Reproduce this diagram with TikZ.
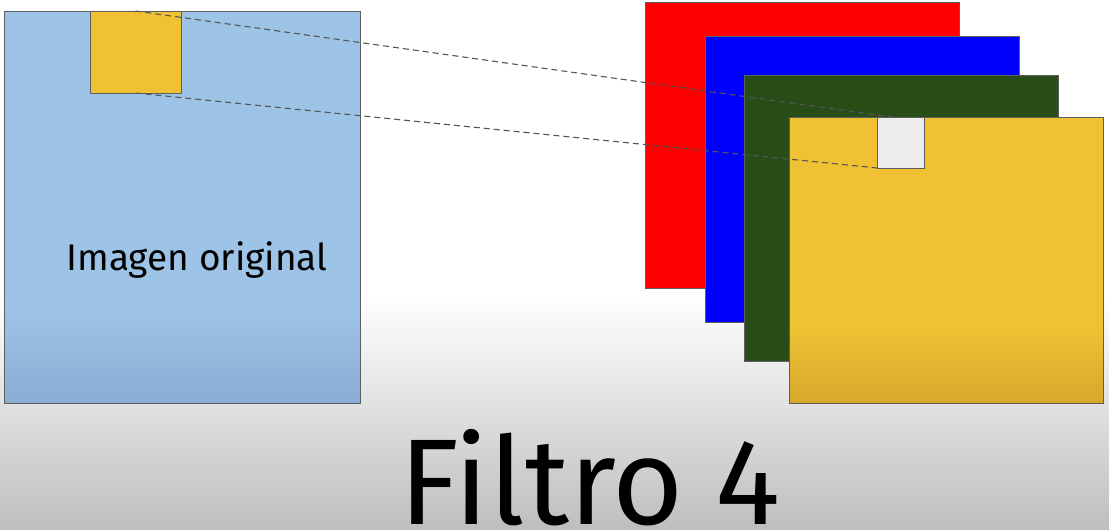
\documentclass[tikz,border=0pt]{standalone}
\usepackage{fontspec}
\setmainfont{Fira Sans}
\definecolor{skyblue}{HTML}{9DC3E6}
\definecolor{skydeep}{HTML}{8AADD3}
\definecolor{sunny}{HTML}{F0C233}
\definecolor{sunnydeep}{HTML}{D6A82B}
\definecolor{leaf}{HTML}{284D17}
\definecolor{chalk}{HTML}{ECECEC}
\definecolor{edgegray}{HTML}{5E5E5E}
\definecolor{floor}{HTML}{BEBEBE}
\pgfdeclareverticalshading{bgfade}{100bp}{color(0bp)=(floor); color(25bp)=(floor); color(47bp)=(white); color(100bp)=(white)}
\pgfdeclareverticalshading{skyfade}{100bp}{color(0bp)=(skydeep); color(25bp)=(skydeep); color(37bp)=(skyblue); color(100bp)=(skyblue)}
\pgfdeclareverticalshading{sunfade}{100bp}{color(0bp)=(sunnydeep); color(25bp)=(sunnydeep); color(39bp)=(sunny); color(100bp)=(sunny)}
\begin{document}
\begin{tikzpicture}[x=1pt,y=-1pt,
  sheet/.style={draw=edgegray,line width=0.8pt,anchor=north west,inner sep=0pt,outer sep=0pt},
  layer/.style={sheet,minimum width=314pt,minimum height=286pt},
  link/.style={draw=edgegray!90!black,line width=1.1pt,dash pattern=on 6pt off 4pt}]
%\draw[help lines, color=gray!30] (0,0) grid[step=50] (1109,530);
\useasboundingbox (0,0) rectangle (1109,530);
\shade[shading=bgfade] (0,0) rectangle (1109,530);
\node[sheet,shade,shading=skyfade,minimum width=356pt,minimum height=392pt] (original) at (4,11) {};
\node[sheet,fill=sunny,minimum width=91pt,minimum height=82pt] (patch) at (90,11) {};
\node[anchor=base,font=\fontsize{37}{37}\selectfont] (origlabel) at (197,270) {Imagen original};
\node[layer,fill=red] (redmap) at (645,2) {};
\node[layer,fill=blue] (bluemap) at (705,36) {};
\node[layer,fill=leaf] (greenmap) at (744,75) {};
\node[layer,shade,shading=sunfade] (yellowmap) at (789,117) {};
\node[sheet,fill=chalk,minimum width=47pt,minimum height=51pt] (pixel) at (877,117) {};
\coordinate (pixeltop) at (891,117);
\draw[link] (patch.north) -- (pixeltop);
\draw[link] (patch.south) -- (pixel.south west);
\node[anchor=base,inner sep=0pt,font=\fontsize{122}{122}\selectfont] (title) at (590,524) {Filtro 4};
\end{tikzpicture}
\end{document}
